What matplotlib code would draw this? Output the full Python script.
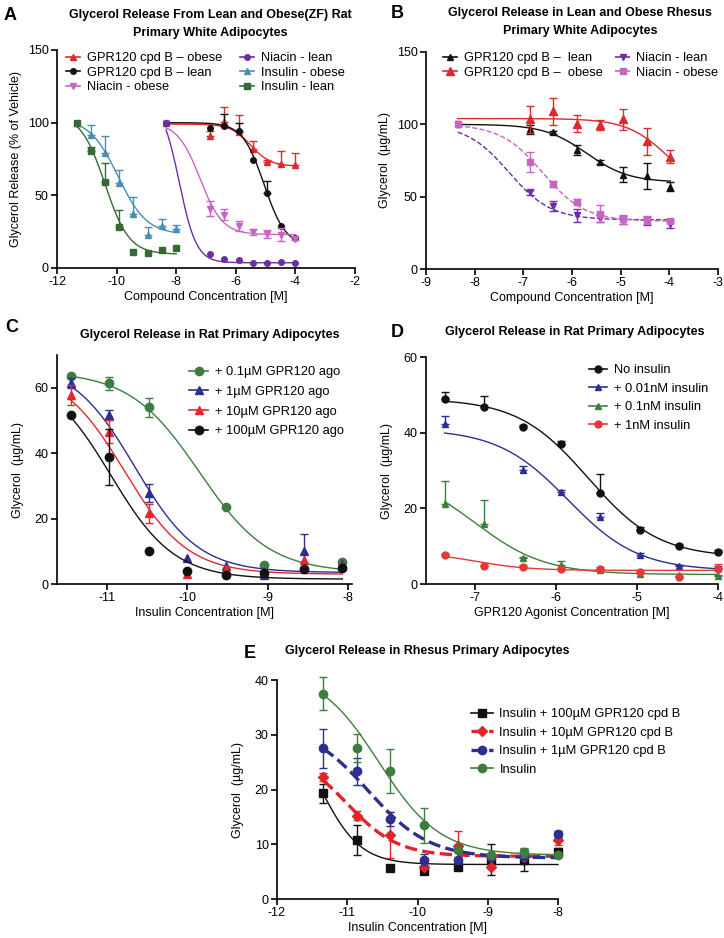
import numpy as np
import matplotlib
matplotlib.use('Agg')
import matplotlib.pyplot as plt
from matplotlib.lines import Line2D

plt.rcParams['font.family'] = ['Liberation Sans', 'DejaVu Sans']
plt.rcParams['axes.unicode_minus'] = False

# ---------------- data ----------------
# A: rat adipocytes, % of vehicle
xa_ins = [-11.34, -10.87, -10.39, -9.92, -9.44, -8.96, -8.48, -8.0]
xa_cmp = [-8.34, -6.86, -6.38, -5.9, -5.43, -4.95, -4.48, -4.0]
a_gpr_obese = [100, 90.6, 100.2, 93.5, 81.6, 72.9, 71.7, 71.1]
a_gpr_obese_err = [0, 3.4, 10.8, 11.5, 5.8, 1.5, 9.0, 7.8]
a_gpr_lean = [100, 96.2, 98.0, 94.6, 74.4, 51.3, 29.1, 20.4]
a_gpr_lean_err = [0, 0, 7.8, 5.0, 0, 8.6, 0, 0]
a_nia_obese = [100, 40.8, 36.8, 29.1, 24.7, 23.3, 22.9, 20.2]
a_nia_obese_err = [0, 5.0, 4.0, 3.5, 2.0, 3.0, 4.5, 1.0]
a_nia_lean = [100, 9.4, 6.1, 5.4, 3.6, 3.6, 3.8, 3.6]
a_ins_obese = [100, 91.7, 78.9, 58.3, 37.4, 22.4, 28.9, 27.0]
a_ins_obese_err = [0, 6.7, 11.7, 8.9, 11.2, 5.6, 4.5, 2.5]
a_ins_lean = [100, 80.5, 59.2, 28.5, 11.2, 10.1, 12.1, 13.5]
a_ins_lean_err = [0, 3.0, 13.0, 11.2, 0, 0, 0, 0]
# fitted curves: top, bottom, logEC50, hill slope
a_fit_gpr_obese = [99, 70, -5.5, 1.3]
a_fit_gpr_lean = [100, 15, -5.05, 1.2]
a_fit_nia_obese = [100, 23, -7.2, 1.15]
a_fit_nia_lean = [115, 3.6, -7.9, 1.5]
a_fit_ins_obese = [103, 23, -9.95, 0.9]
a_fit_ins_lean = [106, 9.5, -10.39, 1.07]

# B: rhesus adipocytes, ug/mL
xb = [-8.35, -6.86, -6.39, -5.9, -5.43, -4.95, -4.46, -3.98]
b_gpr_lean = [100, 96.6, 94.4, 82.5, 74.0, 65.2, 64.1, 57.0]
b_gpr_lean_err = [0, 3.0, 1.0, 3.5, 1.5, 5.0, 9.0, 3.0]
b_gpr_obese = [np.nan, 103.4, 109.0, 100.4, 99.6, 103.4, 88.3, 77.6]
b_gpr_obese_err = [0, 9.5, 9.5, 6.0, 3.5, 7.5, 9.5, 4.5]
b_nia_lean = [100, 52.9, 43.5, 37.2, 35.0, 33.9, 33.2, 31.0]
b_nia_lean_err = [0, 1.5, 3.5, 4.5, 2.5, 2.5, 3.0, 3.0]
b_nia_obese = [100, 74.2, 58.5, 46.6, 38.3, 34.3, 33.9, 33.4]
b_nia_obese_err = [0, 7.0, 2.0, 1.5, 6.0, 3.0, 3.0, 1.0]
b_fit_gpr_lean = [100, 60, -5.7, 1.0]
b_fit_gpr_obese = [104, 50, -4.0, 1.0]
b_fit_nia_lean = [100, 34, -7.3, 1.0]
b_fit_nia_obese = [100, 33, -6.6, 1.0]

# C: rat adipocytes vs insulin
xc = [-11.45, -10.97, -10.48, -10.0, -9.52, -9.04, -8.55, -8.07]
c_01 = [63.7, 61.3, 54.0, np.nan, 23.4, 5.8, np.nan, 6.8]
c_01_err = [0, 2.0, 3.0, 0, 0, 0, 0, 0]
c_1 = [61.5, 51.6, 27.9, 8.1, 5.6, 2.6, 10.2, 6.0]
c_1_err = [1.5, 1.5, 2.8, 0, 0, 0, 5.0, 0]
c_10 = [57.7, 46.5, 21.6, 3.0, 4.5, 3.3, 7.2, 5.5]
c_10_err = [3.0, 3.5, 3.0, 0, 0, 0, 0, 0]
c_100 = [51.8, 38.8, 10.0, 3.9, 2.9, 3.5, 4.5, 4.8]
c_100_err = [0, 8.5, 0, 0, 0, 0, 0, 0]
c_fit_01 = [65, 3.5, -9.85, 1.0]
c_fit_1 = [68, 3.5, -10.65, 1.1]
c_fit_10 = [66, 3.0, -10.78, 1.1]
c_fit_100 = [65, 1.5, -10.95, 1.1]

# D: rat adipocytes vs GPR120 agonist
xd = [-7.37, -6.89, -6.41, -5.93, -5.45, -4.96, -4.48, -4.0]
d_none = [49.0, 46.8, 41.5, 36.9, 24.1, 14.2, 10.0, 8.4]
d_none_err = [1.7, 2.9, 0.5, 0.8, 5.0, 0.8, 0.5, 0.5]
d_001 = [42.2, np.nan, 30.1, 24.4, 17.8, 7.7, 4.8, 4.2]
d_001_err = [2.2, 0, 1.0, 0.5, 1.0, 0.5, 0.3, 0.5]
d_01 = [21.1, 15.8, 6.8, 5.0, 3.8, 2.6, 2.4, 2.0]
d_01_err = [6.1, 6.5, 0.3, 1.0, 0, 0, 0, 0.5]
d_1 = [7.7, 4.7, 4.6, 3.9, 3.9, 3.3, 1.9, 3.9]
d_1_err = [0.3, 0.3, 0.3, 0.3, 0.5, 0.3, 0.3, 1.5]
d_fit_none = [49, 7, -5.6, 1.0]
d_fit_001 = [41, 3.5, -5.85, 1.0]
d_fit_01 = [30, 2.5, -7.0, 1.0]
d_fit_1 = [8.5, 3.6, -7.0, 1.3]

# E: rhesus adipocytes vs insulin
xe = [-11.34, -10.86, -10.39, -9.91, -9.43, -8.95, -8.48, -8.0]
e_100 = [19.3, 10.8, 5.6, 5.1, 5.8, 7.2, 7.1, 8.5]
e_100_err = [1.7, 2.8, 0.5, 0.5, 0.3, 2.8, 2.0, 0.8]
e_10 = [22.3, 15.2, 11.7, 5.9, 9.7, 5.9, 7.7, 10.7]
e_10_err = [0.8, 0.8, 4.2, 0, 2.7, 0, 0, 0.8]
e_1 = [27.5, 23.3, 14.6, 7.2, 7.2, 7.6, 7.8, 11.9]
e_1_err = [3.5, 2.5, 1.2, 1.0, 0.5, 0.5, 0.5, 0.5]
e_ins = [37.5, 27.6, 23.4, 13.5, 9.0, 8.0, 8.5, 8.0]
e_ins_err = [3.0, 2.5, 4.0, 3.2, 0, 0, 0.8, 0]
e_fit_100 = [35, 6.3, -11.4, 1.5]
e_fit_10 = [27, 7.8, -11.0, 1.2]
e_fit_1 = [32, 7.5, -10.7, 1.0]
e_fit_ins = [42, 8.0, -10.55, 1.0]

RED = '#dd2a2e'
BLACK = '#111111'
PINK = '#c766c2'
PURPLE = '#6b2fa0'
STEEL = '#4a8fb3'
DGREEN = '#356b33'
GREEN = '#3f7d3f'
NAVY = '#2c2f8e'

W, H = 724, 938


def box(x0, y0, x1, y1):
    return [x0 / W, 1 - y1 / H, (x1 - x0) / W, (y1 - y0) / H]


def logistic(x, top, bottom, ec50, slope):
    return bottom + (top - bottom) / (1 + 10 ** ((x - ec50) * slope))


def series(ax, x, y, err, fit, color, marker, ms, lw=1.0, ls='-', upper=True):
    x = np.array(x, dtype=float)
    y = np.array(y, dtype=float)
    err = np.array(err, dtype=float)
    m = err > 0
    lo = np.zeros_like(err) if upper else err
    ax.errorbar(x[m], y[m], yerr=[lo[m], err[m]], fmt='none', ecolor=color,
                elinewidth=1.0, capsize=2.8, capthick=1.0, clip_on=False)
    xs = np.linspace(x.min(), x.max(), 300)
    ax.plot(xs, logistic(xs, *fit), color=color, lw=lw, ls=ls, clip_on=False)
    ax.plot(x, y, ls='none', marker=marker, color=color, ms=ms, clip_on=False)
    return Line2D([], [], color=color, marker=marker, ms=ms, lw=max(lw, 1.2), ls=ls)


def style(ax, xlim, ylim, xticks, yticks):
    ax.set_xlim(xlim)
    ax.set_ylim(ylim)
    ax.set_xticks(xticks)
    ax.set_yticks(yticks)
    for s in ['top', 'right']:
        ax.spines[s].set_visible(False)
    for s in ['left', 'bottom']:
        ax.spines[s].set_linewidth(1.2)
    ax.tick_params(direction='out', length=4, width=1.2, labelsize=9, pad=2)


def title(x, y, txt, letter, lx, ly):
    fig.text(x / W, 1 - y / H, txt, ha='center', va='center', fontsize=9,
             fontweight='bold', linespacing=1.6)
    fig.text(lx / W, 1 - ly / H, letter, ha='left', va='center', fontsize=13,
             fontweight='bold')


def legend(ax, handles, labels, x, y, ncol=1, spacing=0.2, hl=1.1, cs=0.8):
    ax.legend(handles, labels, loc='upper left', bbox_to_anchor=(x / W, 1 - y / H),
              bbox_transform=fig.transFigure, frameon=False, ncol=ncol, fontsize=9.3,
              borderpad=0, labelspacing=spacing, handlelength=hl, handletextpad=0.5,
              columnspacing=cs, borderaxespad=0)


fig = plt.figure(figsize=(W / 100, H / 100), dpi=100)

# ---------------- A ----------------
ax = fig.add_axes(box(57, 50, 355, 268))
h1 = series(ax, xa_cmp, a_gpr_obese, a_gpr_obese_err, a_fit_gpr_obese, RED, '^', 4.5)
h2 = series(ax, xa_cmp, a_gpr_lean, a_gpr_lean_err, a_fit_gpr_lean, BLACK, 'o', 4.0)
h3 = series(ax, xa_cmp, a_nia_obese, a_nia_obese_err, a_fit_nia_obese, PINK, 'v', 4.5, upper=False)
h4 = series(ax, xa_cmp, a_nia_lean, [0] * 8, a_fit_nia_lean, PURPLE, 'o', 4.0)
h5 = series(ax, xa_ins, a_ins_obese, a_ins_obese_err, a_fit_ins_obese, STEEL, '^', 4.5)
h6 = series(ax, xa_ins, a_ins_lean, a_ins_lean_err, a_fit_ins_lean, DGREEN, 's', 4.0)
style(ax, (-12, -2), (0, 150), [-12, -10, -8, -6, -4, -2], [0, 50, 100, 150])
ax.set_xlabel('Compound Concentration [M]', fontsize=9, labelpad=2)
ax.set_ylabel('Glycerol Release (% of Vehicle)', fontsize=9, labelpad=4)
legend(ax, [h1, h2, h3, h4, h5, h6],
       ['GPR120 cpd B \u2013 obese', 'GPR120 cpd B \u2013 lean', 'Niacin - obese',
        'Niacin - lean', 'Insulin - obese', 'Insulin - lean'], 66, 52, ncol=2, cs=1.4)
title(210, 24, 'Glycerol Release From Lean and Obese(ZF) Rat\nPrimary White Adipocytes',
      'A', 4, 15)

# ---------------- B ----------------
ax = fig.add_axes(box(426, 52, 718, 269))
g1 = series(ax, xb, b_gpr_lean, b_gpr_lean_err, b_fit_gpr_lean, BLACK, '^', 4.5, upper=False)
g2 = series(ax, xb, b_gpr_obese, b_gpr_obese_err, b_fit_gpr_obese, RED, '^', 5.5, upper=False)
g3 = series(ax, xb, b_nia_lean, b_nia_lean_err, b_fit_nia_lean, PURPLE, 'v', 4.5, ls='--', upper=False)
g4 = series(ax, xb, b_nia_obese, b_nia_obese_err, b_fit_nia_obese, PINK, 's', 4.5, ls='--', upper=False)
style(ax, (-9, -3), (0, 150), range(-9, -2), [0, 50, 100, 150])
ax.set_xlabel('Compound Concentration [M]', fontsize=9, labelpad=2)
ax.set_ylabel('Glycerol  (\u00b5g/mL)', fontsize=9, labelpad=4)
legend(ax, [g1, g2, g3, g4],
       ['GPR120 cpd B \u2013  lean', 'GPR120 cpd B \u2013  obese', 'Niacin - lean', 'Niacin - obese'],
       443, 52, ncol=2, cs=1.0)
title(580, 22, 'Glycerol Release in Lean and Obese Rhesus\nPrimary White Adipocytes',
      'B', 391, 13)

# ---------------- C ----------------
ax = fig.add_axes(box(57, 355, 352, 584))
k1 = series(ax, xc, c_01, c_01_err, c_fit_01, GREEN, 'o', 6, upper=False)
k2 = series(ax, xc, c_1, c_1_err, c_fit_1, NAVY, '^', 6, upper=False)
k3 = series(ax, xc, c_10, c_10_err, c_fit_10, RED, '^', 6, upper=False)
k4 = series(ax, xc, c_100, c_100_err, c_fit_100, BLACK, 'o', 6, upper=False)
style(ax, (-11.62, -7.95), (0, 70), [-11, -10, -9, -8], [0, 20, 40, 60])
ax.set_xlabel('Insulin Concentration [M]', fontsize=9, labelpad=2)
ax.set_ylabel('Glycerol  (\u00b5g/mL)', fontsize=9, labelpad=8)
legend(ax, [k1, k2, k3, k4],
       ['+ 0.1\u00b5M GPR120 ago', '+ 1\u00b5M GPR120 ago', '+ 10\u00b5M GPR120 ago',
        '+ 100\u00b5M GPR120 ago'], 189, 366, spacing=0.6, hl=1.5)
title(210, 335, 'Glycerol Release in Rat Primary Adipocytes', 'C', 5, 328)

# ---------------- D ----------------
ax = fig.add_axes(box(426, 357, 718, 584))
m1 = series(ax, xd, d_none, d_none_err, d_fit_none, BLACK, 'o', 5)
m2 = series(ax, xd, d_001, d_001_err, d_fit_001, NAVY, '^', 5)
m3 = series(ax, xd, d_01, d_01_err, d_fit_01, GREEN, '^', 5)
m4 = series(ax, xd, d_1, d_1_err, d_fit_1, '#e53838', 'o', 5)
style(ax, (-7.6, -4), (0, 60), [-7, -6, -5, -4], [0, 20, 40, 60])
ax.set_xlabel('GPR120 Agonist Concentration [M]', fontsize=9, labelpad=2)
ax.set_ylabel('Glycerol  (\u00b5g/mL)', fontsize=9, labelpad=8)
legend(ax, [m1, m2, m3, m4],
       ['No insulin', '+ 0.01nM insulin', '+ 0.1nM insulin', '+ 1nM insulin'],
       589, 364, spacing=0.5, hl=1.4)
title(575, 332, 'Glycerol Release in Rat Primary Adipocytes', 'D', 391, 332)

# ---------------- E ----------------
ax = fig.add_axes(box(277, 680, 558, 899))
n1 = series(ax, xe, e_100, e_100_err, e_fit_100, BLACK, 's', 5.5, upper=False)
n2 = series(ax, xe, e_10, e_10_err, e_fit_10, '#e02528', 'D', 5, lw=2.4, ls='--', upper=False)
n3 = series(ax, xe, e_1, e_1_err, e_fit_1, NAVY, 'o', 6, lw=2.4, ls='--', upper=False)
n4 = series(ax, xe, e_ins, e_ins_err, e_fit_ins, GREEN, 'o', 6, upper=False)
style(ax, (-12, -8), (0, 40), [-12, -11, -10, -9, -8], [0, 10, 20, 30, 40])
ax.set_xlabel('Insulin Concentration [M]', fontsize=9, labelpad=2)
ax.set_ylabel('Glycerol  (\u00b5g/mL)', fontsize=9, labelpad=8)
legend(ax, [n1, n2, n3, n4],
       ['Insulin + 100\u00b5M GPR120 cpd B', 'Insulin + 10\u00b5M GPR120 cpd B',
        'Insulin + 1\u00b5M GPR120 cpd B', 'Insulin'], 471, 708, spacing=0.5, hl=1.7)
title(427, 651, 'Glycerol Release in Rhesus Primary Adipocytes', 'E', 244, 653)

fig.savefig('out.png', dpi=100)
